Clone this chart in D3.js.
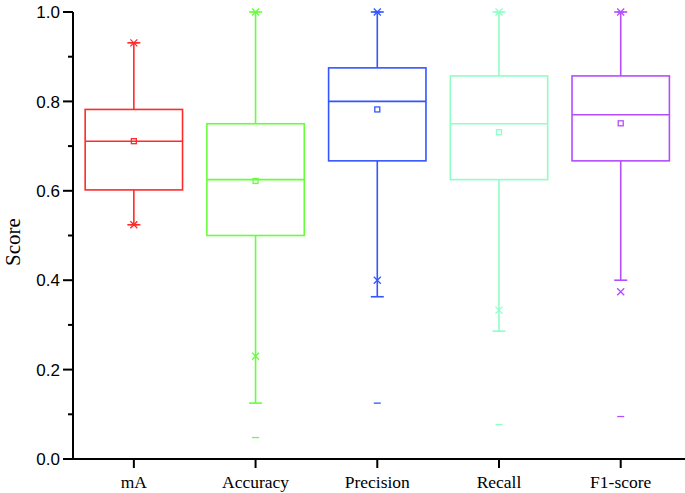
<!DOCTYPE html>
<html>
<head>
<meta charset="utf-8">
<script src="https://cdn.jsdelivr.net/npm/d3@7"></script>
<style>
  html, body { margin: 0; padding: 0; background: #fff; }
  svg { display: block; }
</style>
</head>
<body>
<svg id="chart" width="685" height="493"></svg>
<script>
const categories = ["mA", "Accuracy", "Precision", "Recall", "F1-score"];
const colors = ["#ff2a2a", "#66ff3a", "#3355ff", "#8effc6", "#b44dff"];
const q1 = [0.602, 0.500, 0.667, 0.625, 0.667];
const median = [0.711, 0.625, 0.800, 0.750, 0.770];
const q3 = [0.782, 0.750, 0.875, 0.857, 0.857];
const meanV = [0.711, 0.622, 0.782, 0.731, 0.751];
const whiskerLow = [0.524, 0.125, 0.363, 0.286, 0.400];
const whiskerHigh = [0.931, 1.000, 1.000, 1.000, 1.000];
const p1 = [0.524, 0.230, 0.400, 0.333, 0.374];
const p99 = [0.931, 1.000, 1.000, 1.000, 1.000];
const minV = [0.524, 0.048, 0.125, 0.077, 0.095];
const maxV = [0.931, 1.000, 1.000, 1.000, 1.000];
const majorTicks = [0, 0.2, 0.4, 0.6, 0.8, 1.0];
const minorTicks = [0.1, 0.3, 0.5, 0.7, 0.9];

const svg = d3.select("#chart");
const mLeft = 73, mRight = 684, mTop = 12, mBottom = 459;

const x = d3.scaleLinear().domain([0.5, 5.52]).range([mLeft, mRight]);
const y = d3.scaleLinear().domain([0, 1]).range([mBottom, mTop]);
const unit = x(2) - x(1);
const boxW = unit * 0.8;
const capW = 13;

const data = categories.map((c, i) => ({
  c, i, color: colors[i], q1: q1[i], med: median[i], q3: q3[i], mean: meanV[i],
  wl: whiskerLow[i], wh: whiskerHigh[i], p1: p1[i], p99: p99[i], mn: minV[i], mx: maxV[i]
}));

const g = svg.append("g");
data.forEach(d => {
  const cx = x(d.i + 1);
  const gg = g.append("g").attr("stroke", d.color).attr("fill", "none").attr("stroke-width", 1.6);
  gg.append("line").attr("x1", cx).attr("x2", cx).attr("y1", y(d.q3)).attr("y2", y(d.wh));
  gg.append("line").attr("x1", cx).attr("x2", cx).attr("y1", y(d.q1)).attr("y2", y(d.wl));
  gg.append("line").attr("x1", cx - capW / 2).attr("x2", cx + capW / 2).attr("y1", y(d.wh)).attr("y2", y(d.wh));
  gg.append("line").attr("x1", cx - capW / 2).attr("x2", cx + capW / 2).attr("y1", y(d.wl)).attr("y2", y(d.wl));
  gg.append("rect").attr("x", cx - boxW / 2).attr("width", boxW)
    .attr("y", y(d.q3)).attr("height", y(d.q1) - y(d.q3));
  gg.append("line").attr("x1", cx - boxW / 2).attr("x2", cx + boxW / 2).attr("y1", y(d.med)).attr("y2", y(d.med));
  gg.append("rect").attr("x", cx - 2.5).attr("y", y(d.mean) - 2.5).attr("width", 5).attr("height", 5)
    .attr("stroke-width", 1.3);
  [d.p1, d.p99].forEach(v => {
    const s = 3.5;
    gg.append("path").attr("stroke-width", 1.3)
      .attr("d", `M${cx - s},${y(v) - s}L${cx + s},${y(v) + s}M${cx - s},${y(v) + s}L${cx + s},${y(v) - s}`);
  });
  [d.mn, d.mx].forEach(v => {
    gg.append("line").attr("stroke-width", 1.3).attr("x1", cx - 3.5).attr("x2", cx + 3.5).attr("y1", y(v)).attr("y2", y(v));
  });
});

const yAxis = svg.append("g");
yAxis.append("line").attr("x1", mLeft).attr("x2", mLeft).attr("y1", mTop).attr("y2", mBottom)
  .attr("stroke", "#000").attr("stroke-width", 2);
majorTicks.forEach(t => {
  yAxis.append("line").attr("x1", mLeft - 10).attr("x2", mLeft).attr("y1", y(t)).attr("y2", y(t))
    .attr("stroke", "#000").attr("stroke-width", 2);
  yAxis.append("text").attr("x", mLeft - 13).attr("y", y(t)).attr("dy", "0.36em")
    .attr("text-anchor", "end").attr("font-family", "Liberation Sans, Arial, sans-serif")
    .attr("font-size", 17).attr("fill", "#000").text(d3.format(".1f")(t));
});
minorTicks.forEach(t => {
  yAxis.append("line").attr("x1", mLeft - 5).attr("x2", mLeft).attr("y1", y(t)).attr("y2", y(t))
    .attr("stroke", "#000").attr("stroke-width", 2);
});
svg.append("text").attr("transform", `translate(19.5,242) rotate(-90)`)
  .attr("text-anchor", "middle").attr("font-family", "Liberation Serif, Times New Roman, serif")
  .attr("font-size", 21).attr("fill", "#000").text("Score");

const xAxis = svg.append("g");
xAxis.append("line").attr("x1", mLeft - 1).attr("x2", 685).attr("y1", mBottom).attr("y2", mBottom)
  .attr("stroke", "#000").attr("stroke-width", 2);
categories.forEach((c, i) => {
  const cx = x(i + 1);
  xAxis.append("line").attr("x1", cx).attr("x2", cx).attr("y1", mBottom).attr("y2", mBottom + 9)
    .attr("stroke", "#000").attr("stroke-width", 2);
  xAxis.append("text").attr("x", cx).attr("y", 487.5).attr("text-anchor", "middle")
    .attr("font-family", "Liberation Serif, Times New Roman, serif")
    .attr("font-size", 17.5).attr("fill", "#000").text(c);
});
</script>
</body>
</html>
